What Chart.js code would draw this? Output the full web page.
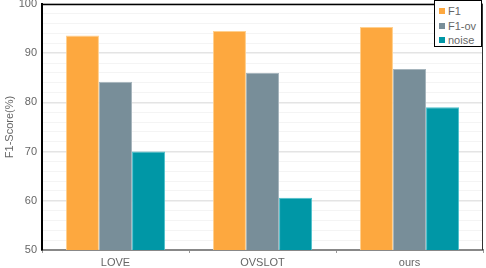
<!DOCTYPE html>
<html>
<head>
<meta charset="utf-8">
<script src="https://cdn.jsdelivr.net/npm/chart.js@4.4.1/dist/chart.umd.min.js"></script>
<style>
  html, body { margin: 0; padding: 0; background: #fff; }
  #wrap { position: relative; width: 486px; height: 268px; }
  #legend {
    position: absolute; left: 434px; top: 0px; width: 48px; height: 47px;
    border: 1.5px solid #000; background: #fff;
    font: 11px "Liberation Sans", Arial, sans-serif; color: #666;
    padding-top: 3px; box-sizing: border-box;
  }
  #legend div { height: 14.5px; line-height: 14.5px; white-space: nowrap; }
  #legend span { display: inline-block; width: 6px; height: 6px; margin: 0 3px 0 4px; vertical-align: 1px; }
</style>
</head>
<body>
<div id="wrap">
  <canvas id="grafico" width="486" height="268"></canvas>
  <div id="legend"></div>
</div>
<script>
const categorias = ["LOVE", "OVSLOT", "ours"];
const f1 = [93.6, 94.5, 95.3];
const f1ov = [84.2, 86.0, 86.8];
const noise = [70.0, 60.6, 79.0];
const yTicks = [50, 60, 70, 80, 90, 100];

const cores = {
  f1: ["#fda83f", "#ffd08f"],
  ov: ["#788e99", "#a6b5bd"],
  noise: ["#0097a6", "#4cc0cc"]
};

const fonte = { family: "'Liberation Sans', Arial, sans-serif", size: 11 };

// top and right frame lines of the plot area
const moldura = {
  id: "moldura",
  afterDraw(chart) {
    const { ctx, chartArea: a } = chart;
    ctx.save();
    ctx.strokeStyle = "#000";
    ctx.lineWidth = 1.5;
    ctx.beginPath();
    ctx.moveTo(a.left, a.top + 0.5);
    ctx.lineTo(a.right, a.top + 0.5);
    ctx.stroke();
    ctx.strokeStyle = "#333";
    ctx.lineWidth = 1;
    ctx.beginPath();
    ctx.moveTo(a.right - 0.5, a.top);
    ctx.lineTo(a.right - 0.5, a.bottom);
    ctx.stroke();
    ctx.restore();
  }
};

const grafico = new Chart(document.getElementById("grafico"), {
  type: "bar",
  data: {
    labels: categorias,
    datasets: [
      { label: "F1", data: f1, backgroundColor: cores.f1[0], borderColor: cores.f1[1], borderWidth: 1 },
      { label: "F1-ov", data: f1ov, backgroundColor: cores.ov[0], borderColor: cores.ov[1], borderWidth: 1 },
      { label: "noise", data: noise, backgroundColor: cores.noise[0], borderColor: cores.noise[1], borderWidth: 1 }
    ]
  },
  options: {
    responsive: false,
    animation: false,
    layout: { padding: { top: 4, right: 3, left: 0, bottom: 0 } },
    datasets: { bar: { categoryPercentage: 0.675, barPercentage: 1.0 } },
    plugins: { legend: { display: false }, tooltip: { enabled: false } },
    scales: {
      x: {
        afterFit(s) { s.height = 18; s.paddingLeft = 0; s.paddingRight = 0; },
        grid: { display: true, drawOnChartArea: false, offset: true, tickLength: 3, color: "#999" },
        border: { color: "#888", width: 2 },
        ticks: { color: "#666", font: fonte, padding: 3 }
      },
      y: {
        min: 50,
        max: 100,
        afterFit(s) { s.width = 42; s.paddingTop = 0; s.paddingBottom = 0; },
        afterBuildTicks(s) {
          const t = [];
          for (let v = 50; v <= 100; v += 2) t.push({ value: v });
          s.ticks = t;
        },
        grid: {
          drawTicks: false,
          color: ctx => yTicks.includes(ctx.tick.value) ? "#e4e4e4" : "#f4f4f4",
          lineWidth: ctx => yTicks.includes(ctx.tick.value) ? 1.5 : 1
        },
        border: { color: "#000", width: 2 },
        ticks: {
          color: "#666",
          font: fonte,
          padding: 5,
          autoSkip: false,
          callback: v => yTicks.includes(v) ? v : ""
        },
        title: { display: true, text: "F1-Score(%)", color: "#666", font: fonte, padding: { top: 3, bottom: 0 } }
      }
    }
  },
  plugins: [moldura]
});

// legend in the upper right corner, built from the datasets
const leg = document.getElementById("legend");
grafico.data.datasets.forEach(d => {
  const linha = document.createElement("div");
  const q = document.createElement("span");
  q.style.background = d.backgroundColor;
  linha.appendChild(q);
  linha.appendChild(document.createTextNode(d.label));
  leg.appendChild(linha);
});
</script>
</body>
</html>
